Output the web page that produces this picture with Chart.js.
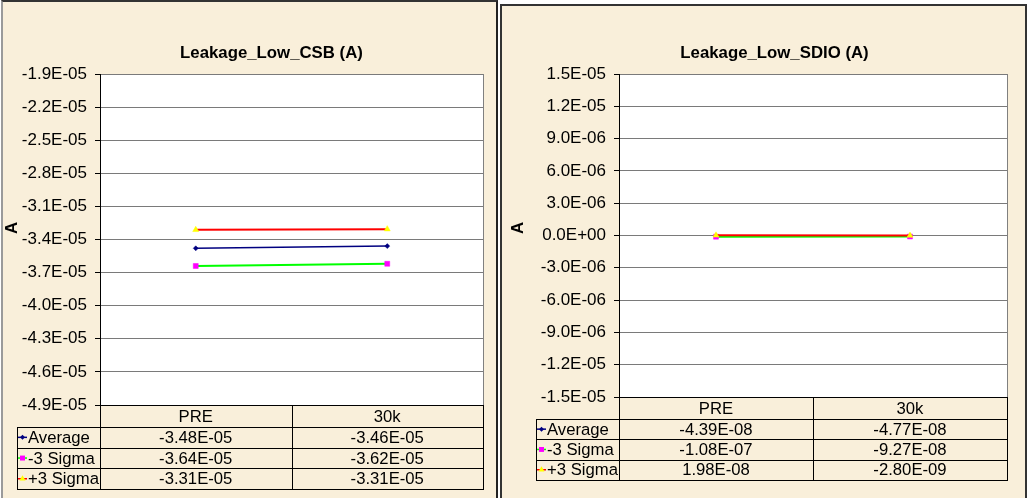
<!DOCTYPE html>
<html><head><meta charset="utf-8">
<script src="https://cdn.jsdelivr.net/npm/chart.js@4/dist/chart.umd.min.js"></script>
<style>
body{margin:0;background:#fff;width:1029px;height:498px;overflow:hidden;position:relative;}
.panel{position:absolute;background:#f9efda;box-sizing:border-box;}
#p1{left:1px;top:0;width:497px;height:520px;border-top:2px solid #333;border-left:2px solid #9a9a9a;border-right:2px solid #222;}
#p2{left:500px;top:4px;width:527px;height:520px;border:2px solid #333;border-bottom:none;}
canvas{position:absolute;top:0;}
#c1{left:0;} #c2{left:499px;}
</style></head><body>
<div class="panel" id="p1"></div><div class="panel" id="p2"></div>
<canvas id="c1" width="499" height="498"></canvas>
<canvas id="c2" width="530" height="498"></canvas>
<script>
// ---- data ----
const categories = ['PRE', '30k'];
const seriesNames = ['Average', '-3 Sigma', '+3 Sigma'];

const csbTitle = 'Leakage_Low_CSB (A)';
const csbAverage = [-3.48e-5, -3.46e-5];
const csbMinus3Sigma = [-3.64e-5, -3.62e-5];
const csbPlus3Sigma = [-3.312e-5, -3.306e-5];
const csbTicks = [-4.9e-5, -4.6e-5, -4.3e-5, -4.0e-5, -3.7e-5, -3.4e-5, -3.1e-5, -2.8e-5, -2.5e-5, -2.2e-5, -1.9e-5];

const sdioTitle = 'Leakage_Low_SDIO (A)';
const sdioAverage = [-4.39e-8, -4.77e-8];
const sdioMinus3Sigma = [-1.08e-7, -9.27e-8];
const sdioPlus3Sigma = [1.98e-8, -2.80e-9];
const sdioTicks = [-1.5e-5, -1.2e-5, -9.0e-6, -6.0e-6, -3.0e-6, 0, 3.0e-6, 6.0e-6, 9.0e-6, 1.2e-5, 1.5e-5];

const axisTitle = 'A';

// ---- helpers ----
const FONT = '"Liberation Sans", Arial, sans-serif';
function fmt(v, d) {
  return v.toExponential(d).toUpperCase().replace(/E([+-])(\d)$/, 'E$10$2');
}
const styles = [
  {line: '#000080', fill: '#000080', shape: 'rectRot', r: 2.5, w: 1.5},
  {line: '#00ff00', fill: '#ff00ff', shape: 'rect', r: 3.5, w: 2},
  {line: '#ff0000', fill: '#ffff00', shape: 'triangle', r: 3.5, w: 2}
];

function drawMarker(ctx, shape, x, y, r, color) {
  ctx.save();
  ctx.fillStyle = color;
  ctx.beginPath();
  if (shape === 'rect') {
    const s = r * Math.SQRT1_2;
    ctx.rect(x - s, y - s, 2 * s, 2 * s);
  } else if (shape === 'rectRot') {
    ctx.moveTo(x, y - r); ctx.lineTo(x + r, y); ctx.lineTo(x, y + r); ctx.lineTo(x - r, y);
  } else {
    ctx.moveTo(x, y - r); ctx.lineTo(x + r * 0.87, y + r * 0.5); ctx.lineTo(x - r * 0.87, y + r * 0.5);
  }
  ctx.closePath();
  ctx.fill();
  ctx.restore();
}

const panelPlugin = {
  id: 'panel',
  beforeDraw(chart) {
    const a = chart.chartArea, ctx = chart.ctx;
    ctx.save();
    ctx.fillStyle = '#ffffff';
    ctx.fillRect(a.left, a.top, a.right - a.left, a.bottom - a.top);
    ctx.restore();
  },
  afterDraw(chart, args, o) {
    const a = chart.chartArea, ctx = chart.ctx, xs = chart.scales.x;
    const px = v => Math.round(v) + 0.5;
    ctx.save();
    // plot right border
    ctx.strokeStyle = '#808080'; ctx.lineWidth = 1;
    ctx.beginPath(); ctx.moveTo(px(a.right), a.top); ctx.lineTo(px(a.right), a.bottom); ctx.stroke();
    // title
    ctx.fillStyle = '#000';
    ctx.font = 'bold 16.8px ' + FONT;
    ctx.textAlign = 'center'; ctx.textBaseline = 'middle';
    ctx.fillText(o.title, o.titleX, o.titleY);
    // axis title
    ctx.save();
    ctx.translate(o.axisX, o.axisY); ctx.rotate(-Math.PI / 2);
    ctx.fillText(axisTitle, 0, 0);
    ctx.restore();
    // data table
    const c0 = xs.getPixelForValue(0), c1 = xs.getPixelForValue(1);
    const mid = (c0 + c1) / 2;
    const top = a.bottom, hdrB = top + o.headerH, bot = hdrB + 3 * o.rowH;
    ctx.strokeStyle = '#000'; ctx.lineWidth = 1;
    ctx.beginPath();
    ctx.moveTo(a.left, px(top)); ctx.lineTo(a.right + 1, px(top));
    for (let i = 0; i <= 3; i++) {
      const y = px(hdrB + i * o.rowH);
      ctx.moveTo(o.legendLeft, y); ctx.lineTo(a.right + 1, y);
    }
    [a.left, mid, a.right].forEach(x => { ctx.moveTo(px(x), top); ctx.lineTo(px(x), px(bot)); });
    ctx.moveTo(px(o.legendLeft), px(hdrB)); ctx.lineTo(px(o.legendLeft), px(bot));
    ctx.stroke();
    ctx.font = '16.7px ' + FONT;
    ctx.textAlign = 'center'; ctx.textBaseline = 'middle';
    categories.forEach((c, i) => ctx.fillText(c, xs.getPixelForValue(i), (top + hdrB) / 2 + 1));
    chart.data.datasets.forEach((ds, r) => {
      const yc = hdrB + (r + 0.5) * o.rowH + 1;
      ds.data.forEach((v, i) => {
        ctx.textAlign = 'center';
        ctx.fillText(fmt(v, 2), xs.getPixelForValue(i), yc);
      });
      const st = styles[r];
      const lx = o.legendLeft + 1;
      ctx.save();
      ctx.strokeStyle = st.line; ctx.lineWidth = 1.5;
      ctx.beginPath(); ctx.moveTo(lx, yc - 1); ctx.lineTo(lx + 9, yc - 1); ctx.stroke();
      ctx.restore();
      drawMarker(ctx, st.shape, lx + 4.5, yc - 1, st.r, st.fill);
      ctx.fillStyle = '#000';
      ctx.textAlign = 'left';
      ctx.fillText(ds.label, lx + 10, yc);
    });
    ctx.restore();
  }
};

function makeChart(id, title, series, ticks, L) {
  const canvas = document.getElementById(id);
  const W = canvas.width, H = canvas.height;
  const datasets = series.map((data, i) => ({
    label: seriesNames[i],
    data: data,
    order: 3 - i,
    borderColor: styles[i].line,
    backgroundColor: styles[i].fill,
    borderWidth: styles[i].w,
    pointStyle: styles[i].shape,
    pointRadius: styles[i].r,
    pointBackgroundColor: styles[i].fill,
    pointBorderColor: styles[i].fill,
    pointBorderWidth: 0.5,
    tension: 0
  }));
  return new Chart(canvas, {
    type: 'line',
    data: {labels: categories, datasets: datasets},
    plugins: [panelPlugin],
    options: {
      responsive: false, animation: false, devicePixelRatio: 1,
      layout: {padding: {left: 0, top: L.top, right: W - L.right, bottom: H - L.bottom}},
      plugins: {
        legend: {display: false}, tooltip: {enabled: false}, title: {display: false},
        panel: {title: title, titleX: L.titleX, titleY: L.titleY, axisX: L.axisX, axisY: L.axisY,
                legendLeft: L.legendLeft, headerH: L.headerH, rowH: L.rowH}
      },
      scales: {
        x: {type: 'category', offset: true, ticks: {display: false},
            grid: {display: false, drawTicks: false}, border: {display: false},
            afterFit(s) { s.height = 0; }},
        y: {min: ticks[0], max: ticks[ticks.length - 1],
            afterBuildTicks(s) { s.ticks = ticks.map(v => ({value: v})); },
            afterFit(s) { s.width = L.left; },
            ticks: {padding: 8, color: '#000', font: {family: FONT, size: 17},
                    callback: v => fmt(v, 1)},
            grid: {color: '#7a7a7a', lineWidth: 1, drawTicks: true, tickLength: 5, tickColor: '#000'},
            border: {display: true, color: '#000', width: 1}}
      }
    }
  });
}

makeChart('c1', csbTitle, [csbAverage, csbMinus3Sigma, csbPlus3Sigma], csbTicks,
  {left: 100, right: 483, top: 74, bottom: 405, titleX: 271.5, titleY: 53, axisX: 12, axisY: 228,
   legendLeft: 17, headerH: 22, rowH: 20.7});
makeChart('c2', sdioTitle, [sdioAverage, sdioMinus3Sigma, sdioPlus3Sigma], sdioTicks,
  {left: 120, right: 508, top: 74, bottom: 397, titleX: 275.5, titleY: 53, axisX: 19, axisY: 228,
   legendLeft: 37, headerH: 22, rowH: 20.3});
</script>
</body></html>
